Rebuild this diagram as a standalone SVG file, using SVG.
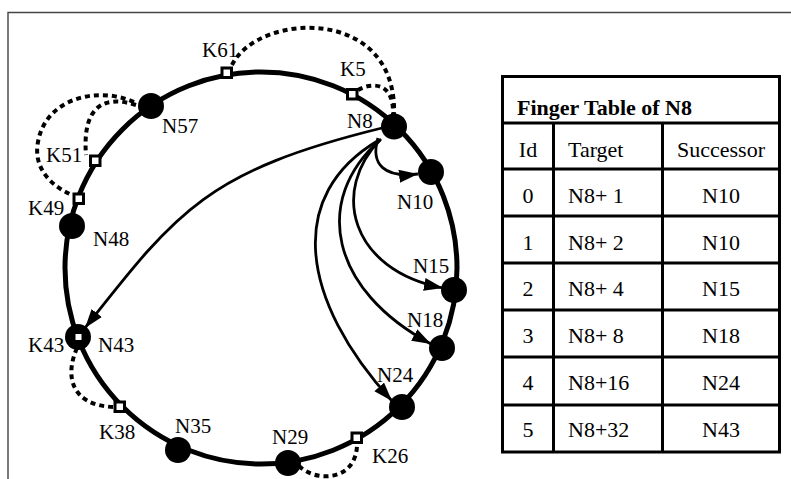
<svg xmlns="http://www.w3.org/2000/svg" width="791" height="479" viewBox="0 0 791 479">
<defs>
<style>
text{font-family:"Liberation Serif","Times New Roman",serif;fill:#000}
.lbl{font-size:21px}
.tt{font-size:22px}
.ttl{font-size:22px;font-weight:bold}
.mid{text-anchor:middle}
.node{fill:#000}
.key{fill:#fff;stroke:#000;stroke-width:3}
.ring{fill:none;stroke:#000;stroke-width:5}
.arr{fill:none;stroke:#000;stroke-width:2.8;marker-end:url(#ah)}
.dash{fill:none;stroke:#000;stroke-width:4;stroke-dasharray:5 4}
.tl{stroke:#000;stroke-width:3;fill:none}
.frame{stroke:#444;stroke-width:1.4;fill:none}
</style>
<marker id="ah" markerUnits="userSpaceOnUse" markerWidth="20" markerHeight="14" refX="19" refY="6.5" orient="auto">
<path d="M0,0 L19,6.5 L0,13 z" fill="#000"/>
</marker>
</defs>
<rect width="791" height="479" fill="#fff"/>
<path class="frame" d="M8,479 L8,12.5 L791,12.5"/>

<circle id="ring" class="ring" cx="261" cy="268" r="196"/>

<g id="connectors">
<path class="arr" d="M378,138 C370,165 385,178 418,174"/>
<path class="arr" d="M381,139 C330,190 350,270 443,288"/>
<path class="arr" d="M380,140 C312,200 330,290 431,344"/>
<path class="arr" d="M379,140 C285,195 300,300 392,401"/>
<path class="arr" d="M382,128 C207,171 177,211 85,328"/>
<path class="dash" d="M232,65 C258,12 398,5 394,115"/>
<path class="dash" d="M358,90 C372,82 394,82 393,114"/>
<path class="dash" d="M134,102 C95,85 45,100 38,142 C33,167 50,185 70,194"/>
<path class="dash" d="M136,105 C105,95 82,105 86,155"/>
<path class="dash" d="M77,348 C65,375 70,405 113,407"/>
<path class="dash" d="M299,466 C315,482 355,482 357,446"/>
</g>

<g id="N8"><circle class="node" cx="394" cy="126.5" r="13"/><text class="lbl" x="347" y="128">N8</text></g>
<g id="K5"><rect class="key" x="347.5" y="89.5" width="9.5" height="9.5"/><text class="lbl" x="340" y="76">K5</text></g>
<g id="K61"><rect class="key" x="222" y="68" width="9.5" height="9.5"/><text class="lbl" x="202" y="57">K61</text></g>
<g id="N57"><circle class="node" cx="151" cy="106" r="13"/><text class="lbl" x="162" y="133">N57</text></g>
<g id="K51"><rect class="key" x="90.5" y="156" width="9.5" height="9.5"/><text class="lbl" x="46" y="162">K51</text></g>
<g id="K49"><rect class="key" x="74" y="194" width="9.5" height="9.5"/><text class="lbl" x="28" y="215">K49</text></g>
<g id="N48"><circle class="node" cx="72" cy="226" r="13"/><text class="lbl" x="93" y="246">N48</text></g>
<g id="N43"><circle class="node" cx="78" cy="337" r="13"/><rect class="key" x="74" y="332.5" width="9" height="9" stroke-width="2.5"/><text class="lbl" x="28" y="352">K43</text><text class="lbl" x="98" y="352">N43</text></g>
<g id="K38"><rect class="key" x="115" y="402" width="9.5" height="9.5"/><text class="lbl" x="99" y="439">K38</text></g>
<g id="N35"><circle class="node" cx="178" cy="450" r="13"/><text class="lbl" x="175" y="433">N35</text></g>
<g id="N29"><circle class="node" cx="288" cy="463" r="13"/><text class="lbl" x="272" y="444">N29</text></g>
<g id="K26"><rect class="key" x="352" y="433" width="9.5" height="9.5"/><text class="lbl" x="372" y="463">K26</text></g>
<g id="N24"><circle class="node" cx="402" cy="407" r="13"/><text class="lbl" x="377" y="382">N24</text></g>
<g id="N18"><circle class="node" cx="442" cy="348" r="13"/><text class="lbl" x="407" y="327">N18</text></g>
<g id="N15"><circle class="node" cx="454" cy="290" r="13"/><text class="lbl" x="413" y="273">N15</text></g>
<g id="N10"><circle class="node" cx="431" cy="172" r="13"/><text class="lbl" x="397" y="209">N10</text></g>

<g id="finger-table">
<rect class="tl" x="502.5" y="76.5" width="277" height="375.5"/>
<path class="tl" d="M502.5,123 H779.5 M502.5,169 H779.5 M502.5,216 H779.5 M502.5,263 H779.5 M502.5,310 H779.5 M502.5,357 H779.5 M502.5,405 H779.5 M553.5,123 V452 M662.5,123 V452"/>
<text class="ttl" x="517" y="115">Finger Table of N8</text>
<text class="tt mid" x="528" y="157">Id</text><text class="tt" x="568" y="157">Target</text><text class="tt mid" x="721" y="157">Successor</text>
<text class="tt mid" x="528" y="203">0</text><text class="tt" x="568" y="203">N8+ 1</text><text class="tt mid" x="721" y="203">N10</text>
<text class="tt mid" x="528" y="250">1</text><text class="tt" x="568" y="250">N8+ 2</text><text class="tt mid" x="721" y="250">N10</text>
<text class="tt mid" x="528" y="296">2</text><text class="tt" x="568" y="296">N8+ 4</text><text class="tt mid" x="721" y="296">N15</text>
<text class="tt mid" x="528" y="343">3</text><text class="tt" x="568" y="343">N8+ 8</text><text class="tt mid" x="721" y="343">N18</text>
<text class="tt mid" x="528" y="390">4</text><text class="tt" x="568" y="390">N8+16</text><text class="tt mid" x="721" y="390">N24</text>
<text class="tt mid" x="528" y="437">5</text><text class="tt" x="568" y="437">N8+32</text><text class="tt mid" x="721" y="437">N43</text>
</g>
</svg>
